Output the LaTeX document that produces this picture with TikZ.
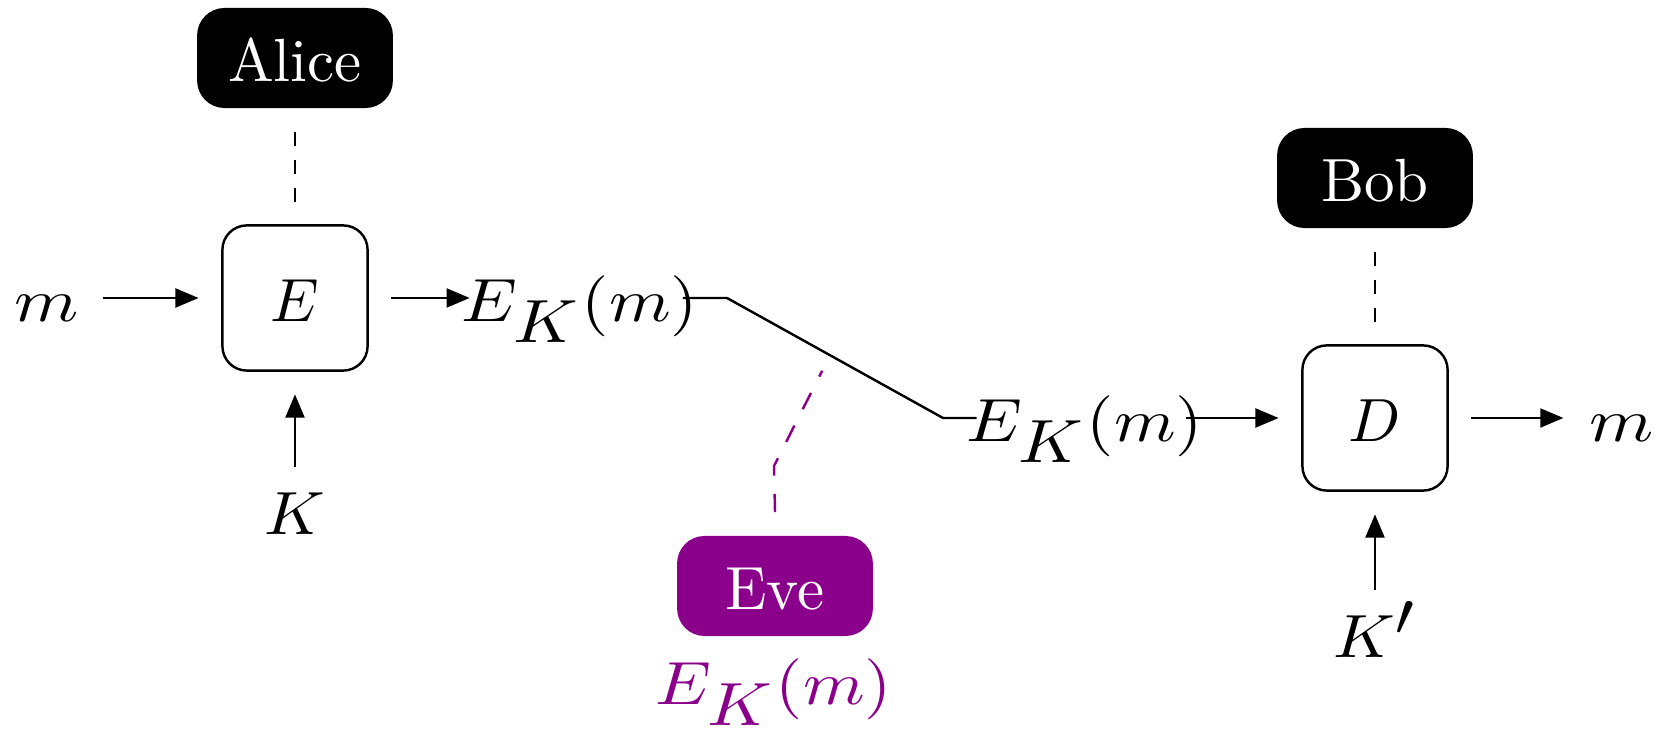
\documentclass[tikz,border=0pt]{standalone}
\usepackage{graphicx}
\usetikzlibrary{arrows.meta,calc}
\definecolor{evecol}{RGB}{139,0,139}
\newcommand{\wmath}[2]{\scalebox{#1}[1]{$#2$}}
\begin{document}
\begin{tikzpicture}[x=0.16393pt,y=-0.16393pt,
  lab/.style={text height=7.86pt,text depth=0pt,inner sep=3.33pt,outer sep=0pt},
  party/.style={lab,fill=black,text=white,rounded corners=4.5pt,minimum width=32.1pt,minimum height=16.4pt,inner sep=0pt,outer sep=3.9pt},
  boxnode/.style={lab,draw,rounded corners=4pt,minimum size=23.8pt,inner sep=0pt,outer sep=3.9pt},
  arr/.style={-{Triangle[length=3.8pt,width=3.1pt]}},
  pdash/.style={dash pattern=on 2.3pt off 2.3pt}]
\useasboundingbox (0,0) rectangle (1669,731);
% parties
\node[party] (alice) at (295,58) {Alice};
\node[party] (bob) at (1375,178) {Bob};
\node[party,fill=evecol] (eve) at (775,586) {Eve};
% boxes
\node[boxnode] (E) at (295,298) {$E$};
\node[boxnode] (D) at (1375,418) {$D$};
% labels
\node[lab] (mL) at (47,298) {\wmath{1.2}{m}};
\node[lab] (K) at (295,511) {\wmath{1.08}{K}};
\node[lab] (ek1) at (580,298) {\wmath{1.15}{E_{\displaystyle K}(m)}};
\node[lab] (ek2) at (1085,418) {\wmath{1.15}{E_{\displaystyle K}(m)}};
\node[lab] (mR) at (1622,418) {\wmath{1.2}{m}};
\node[lab] (Kp) at (1375,634) {\wmath{1.1}{K^{\displaystyle\prime}}};
\node[lab,text=evecol] (evelab) at (774,681) {\wmath{1.15}{E_{\displaystyle K}(m)}};
% coordinates
\coordinate (j1) at (727,298);
\coordinate (j2) at (943,418);
\coordinate (tap) at ($(j1)!0.477!(j2)$);
\coordinate (bend) at (774,466);
% connectors
\draw[pdash] (alice) -- (E);
\draw[pdash] (bob) -- (D);
\draw[arr,shorten <=0.5pt] (mL.east) -- (E.west);
\draw[arr] (K.north) -- (E.south);
\draw[arr,shorten >=-4.6pt] (E.east) -- (ek1.west);
\draw[shorten <=-5.8pt,shorten >=-4.9pt] (ek1.east) -- (j1) -- (j2) -- (ek2.west);
\draw[arr,shorten <=-6.1pt] (ek2.east) -- (D.west);
\draw[arr,shorten >=1pt] (D.east) -- (mR.west);
\draw[arr] (Kp.north) -- (D.south);
\draw[evecol,dashed,shorten >=2.85pt] (eve.north) -- (bend) -- (tap);
\end{tikzpicture}
\end{document}
